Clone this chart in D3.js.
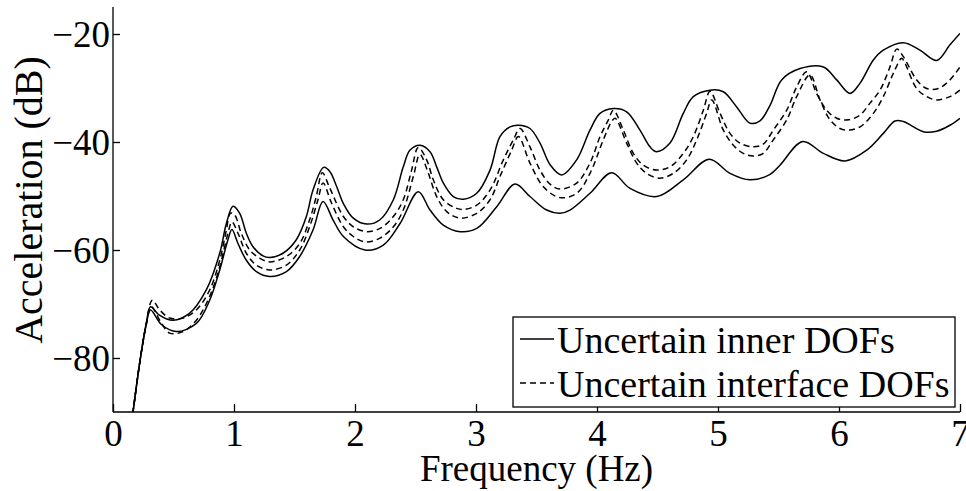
<!DOCTYPE html>
<html>
<head>
<meta charset="utf-8">
<script src="https://cdn.jsdelivr.net/npm/d3@7"></script>
<style>
    body { margin: 0; background: #fff; }
</style>
</head>
<body>
<div id="chart"></div>
<script>
// frequency (Hz), acceleration (dB)
const innerUpper = [
    [0.15, -92.2], [0.165, -90], [0.22, -81], [0.275, -73.6], [0.31, -70.5], [0.38, -72.0], [0.496, -73.0],
    [0.634, -71.7], [0.771, -67.4], [0.882, -60.6], [0.937, -55.1], [0.992, -51.9], [1.047, -53.2], [1.102, -56.9],
    [1.157, -59.4], [1.24, -61.1], [1.295, -61.4], [1.405, -60.6], [1.515, -58.1], [1.598, -53.8], [1.653, -48.9],
    [1.741, -44.7], [1.793, -45.5], [1.849, -48.3], [1.904, -51.4], [1.986, -54.1], [2.097, -55.2], [2.207, -54.4],
    [2.317, -50.7], [2.399, -44.6], [2.455, -41.5], [2.537, -40.6], [2.62, -41.8], [2.675, -44.6], [2.73, -47.6],
    [2.812, -50.1], [2.895, -50.6], [3.006, -49.5], [3.116, -45.2], [3.198, -39.0], [3.281, -37.2], [3.35, -36.9],
    [3.446, -37.5], [3.529, -40.2], [3.612, -44.2], [3.708, -46.1], [3.832, -43.3], [3.942, -37.8], [4.025, -34.7],
    [4.135, -33.8], [4.245, -34.4], [4.355, -37.8], [4.438, -40.9], [4.493, -41.8], [4.603, -40.2], [4.713, -34.7],
    [4.796, -31.6], [4.934, -30.4], [5.044, -30.7], [5.154, -33.5], [5.264, -36.5], [5.347, -36.1], [5.43, -33.2],
    [5.526, -28.5], [5.678, -26.4], [5.871, -26.1], [5.981, -28.5], [6.091, -31.0], [6.174, -29.1], [6.284, -24.8],
    [6.366, -23.0], [6.532, -21.6], [6.669, -23.0], [6.807, -24.9], [6.917, -22.0], [7.0, -19.9]
];
const innerLower = [
    [0.15, -92.2], [0.165, -90], [0.22, -81], [0.275, -73.8], [0.31, -71.1], [0.40, -73.8], [0.523, -75.1],
    [0.689, -73.6], [0.799, -69.3], [0.882, -63.7], [0.95, -58.1], [0.983, -56.2], [1.033, -58.8], [1.102, -61.9],
    [1.185, -64.0], [1.295, -64.9], [1.433, -64.0], [1.543, -61.2], [1.653, -56.3], [1.736, -51.0], [1.818, -54.4],
    [1.904, -57.5], [2.083, -60.0], [2.234, -59.1], [2.372, -55.1], [2.523, -49.2], [2.62, -52.6], [2.73, -55.4],
    [2.868, -56.6], [3.006, -56.0], [3.171, -52.0], [3.322, -47.8], [3.446, -50.1], [3.584, -52.6], [3.694, -53.2],
    [3.777, -52.6], [3.942, -49.5], [4.121, -45.7], [4.273, -48.6], [4.493, -50.1], [4.713, -47.0], [4.928, -43.2],
    [5.099, -45.8], [5.264, -47.0], [5.43, -46.0], [5.512, -44.3], [5.70, -39.9], [5.871, -42.1], [6.05, -43.5],
    [6.229, -41.5], [6.366, -38.4], [6.463, -36.1], [6.532, -36.2], [6.697, -38.1], [6.807, -38.0], [6.917, -36.9],
    [7.0, -35.6]
];
const interfaceUpper = [
    [0.15, -92.2], [0.165, -90], [0.22, -81], [0.275, -73.6], [0.325, -69.3], [0.386, -71.1], [0.468, -72.6],
    [0.579, -72.6], [0.689, -71.1], [0.799, -67.4], [0.882, -61.9], [0.937, -56.3], [0.97, -53.2], [1.005, -53.5],
    [1.06, -56.9], [1.13, -60.0], [1.212, -61.5], [1.295, -62.2], [1.433, -61.2], [1.543, -58.8], [1.625, -54.4],
    [1.68, -50.1], [1.73, -45.7], [1.791, -48.5], [1.904, -53.8], [1.986, -55.7], [2.097, -56.6], [2.207, -56.0],
    [2.317, -53.8], [2.399, -50.7], [2.468, -45.2], [2.523, -41.0], [2.592, -43.3], [2.647, -47.0], [2.73, -50.7],
    [2.84, -52.3], [2.895, -52.5], [3.006, -51.7], [3.116, -48.9], [3.226, -43.3], [3.309, -39.6], [3.364, -37.5],
    [3.446, -40.9], [3.529, -45.2], [3.612, -47.8], [3.694, -48.7], [3.832, -47.6], [3.942, -43.9], [4.025, -39.0],
    [4.094, -35.9], [4.135, -34.1], [4.218, -37.8], [4.3, -42.1], [4.383, -44.3], [4.493, -45.2], [4.603, -44.6],
    [4.713, -42.1], [4.796, -39.0], [4.879, -34.1], [4.934, -30.6], [5.017, -34.7], [5.099, -38.4], [5.182, -40.2],
    [5.292, -40.9], [5.374, -40.4], [5.457, -37.8], [5.568, -34.1], [5.65, -29.8], [5.733, -27.0], [5.815, -31.0],
    [5.898, -34.1], [5.981, -35.6], [6.077, -35.9], [6.174, -35.0], [6.256, -32.8], [6.339, -30.4], [6.421, -26.1],
    [6.477, -22.8], [6.532, -24.2], [6.642, -28.5], [6.725, -30.1], [6.821, -30.1], [6.917, -28.5], [7.0, -26.1]
];
const interfaceLower = [
    [0.15, -92.2], [0.165, -90], [0.22, -81], [0.275, -73.8], [0.317, -70.5], [0.386, -73.0], [0.468, -75.4],
    [0.579, -75.1], [0.689, -73.0], [0.799, -68.6], [0.882, -63.1], [0.95, -56.9], [0.983, -54.8], [1.033, -56.9],
    [1.102, -60.6], [1.185, -62.8], [1.295, -63.7], [1.433, -62.8], [1.543, -60.0], [1.625, -55.7], [1.694, -50.7],
    [1.736, -47.6], [1.804, -51.2], [1.904, -55.7], [1.986, -57.5], [2.083, -58.5], [2.207, -57.8], [2.317, -55.7],
    [2.399, -52.6], [2.482, -46.4], [2.537, -42.3], [2.606, -45.8], [2.675, -50.1], [2.758, -52.9], [2.868, -54.1],
    [3.006, -53.2], [3.116, -50.7], [3.198, -46.4], [3.295, -41.5], [3.35, -39.0], [3.446, -43.9], [3.557, -48.3],
    [3.694, -50.3], [3.832, -49.5], [3.942, -45.8], [4.052, -39.6], [4.121, -36.2], [4.149, -35.6], [4.245, -40.2],
    [4.328, -43.9], [4.41, -45.8], [4.52, -46.7], [4.631, -45.8], [4.741, -43.3], [4.824, -39.6], [4.906, -34.7],
    [4.948, -32.2], [5.044, -37.8], [5.127, -40.6], [5.209, -42.1], [5.292, -42.6], [5.374, -42.1], [5.457, -39.6],
    [5.568, -35.9], [5.65, -31.6], [5.76, -27.6], [5.843, -32.2], [5.926, -35.9], [6.008, -37.5], [6.077, -37.8],
    [6.174, -37.2], [6.284, -34.7], [6.366, -31.6], [6.449, -27.3], [6.518, -24.5], [6.545, -25.4], [6.642, -30.1],
    [6.725, -31.6], [6.807, -32.2], [6.917, -31.6], [7.0, -30.4]
];

const xTicks = [0, 1, 2, 3, 4, 5, 6, 7];
const yTicks = [-80, -60, -40, -20];
const legendLabels = ['Uncertain inner DOFs', 'Uncertain interface DOFs'];

const FONT = "'Liberation Serif', 'Times New Roman', Times, serif";
const margin = { left: 113, top: 7, right: 6, bottom: 79 };
const W = 966, H = 491;
const width = W - margin.left - margin.right;
const height = H - margin.top - margin.bottom;

const svg = d3.select('#chart')
    .append('svg')
    .attr('width', W)
    .attr('height', H)
    .style('font-family', FONT);

const x = d3.scaleLinear().domain([0, 7]).range([0, width]);
const y = d3.scaleLinear().domain([-90, -15]).range([height, 0]);

const g = svg.append('g').attr('transform', `translate(${margin.left},${margin.top})`);

g.append('clipPath')
    .attr('id', 'plot-clip')
    .append('rect')
    .attr('width', width)
    .attr('height', height);

const line = d3.line()
    .x(d => x(d[0]))
    .y(d => y(d[1]))
    .curve(d3.curveCatmullRom.alpha(0.5));

const series = [
    { data: innerUpper, dash: null },
    { data: innerLower, dash: null },
    { data: interfaceUpper, dash: '6,4' },
    { data: interfaceLower, dash: '6,4' }
];

g.append('g')
    .attr('clip-path', 'url(#plot-clip)')
    .selectAll('path')
    .data(series)
    .enter()
    .append('path')
    .attr('d', d => line(d.data))
    .attr('fill', 'none')
    .attr('stroke', '#000')
    .attr('stroke-width', 1.5)
    .attr('stroke-linejoin', 'round')
    .attr('stroke-dasharray', d => d.dash);

// axes, matlab style: ticks pointing inward, no box
const xAxis = d3.axisBottom(x).tickValues(xTicks).tickSize(-8).tickPadding(10).tickFormat(d3.format('d'));
const yAxis = d3.axisLeft(y).tickValues(yTicks).tickSize(-7).tickPadding(10).tickFormat(d => '\u2212' + Math.abs(d));

const gx = g.append('g').attr('transform', `translate(0,${height})`).call(xAxis);
const gy = g.append('g').call(yAxis);

[gx, gy].forEach(a => {
    a.attr('font-family', null).attr('font-size', null);
    a.select('.domain').attr('stroke', '#000').attr('stroke-width', 1.3);
    a.selectAll('.tick line').attr('stroke', '#000').attr('stroke-width', 1.3);
    a.selectAll('.tick text')
        .style('font-family', FONT)
        .style('font-size', '37px')
        .attr('fill', '#000');
});
gx.select('.domain').attr('d', `M0,0H${width}`);
gy.select('.domain').attr('d', `M0,0V${height}`);
gx.selectAll('.tick text').attr('dy', null).attr('y', 34);
gy.selectAll('.tick text').attr('x', -3).attr('dy', '0.35em');

g.append('text')
    .attr('x', width / 2)
    .attr('y', height + 69)
    .attr('text-anchor', 'middle')
    .style('font-family', FONT)
    .style('font-size', '37px')
    .text('Frequency (Hz)');

g.append('text')
    .attr('transform', `translate(${42 - margin.left},${200 - margin.top}) rotate(-90)`)
    .attr('text-anchor', 'middle')
    .style('font-family', FONT)
    .style('font-size', '40px')
    .text('Acceleration (dB)');

// legend
const legend = svg.append('g').attr('transform', 'translate(513,317)');
legend.append('rect')
    .attr('width', 442)
    .attr('height', 90)
    .attr('fill', '#fff')
    .attr('stroke', '#000')
    .attr('stroke-width', 1.3);

const rows = legend.selectAll('.row')
    .data(legendLabels)
    .enter()
    .append('g')
    .attr('class', 'row')
    .attr('transform', (d, i) => `translate(0,${36 + i * 44})`);

rows.append('line')
    .attr('x1', 7)
    .attr('x2', 41)
    .attr('y1', -14)
    .attr('y2', -14)
    .attr('stroke', '#000')
    .attr('stroke-width', 1.3)
    .attr('stroke-dasharray', (d, i) => (i === 1 ? '6,4' : null));

rows.append('text')
    .attr('x', 44)
    .style('font-family', FONT)
    .style('font-size', '38px')
    .text(d => d);
</script>
</body>
</html>
